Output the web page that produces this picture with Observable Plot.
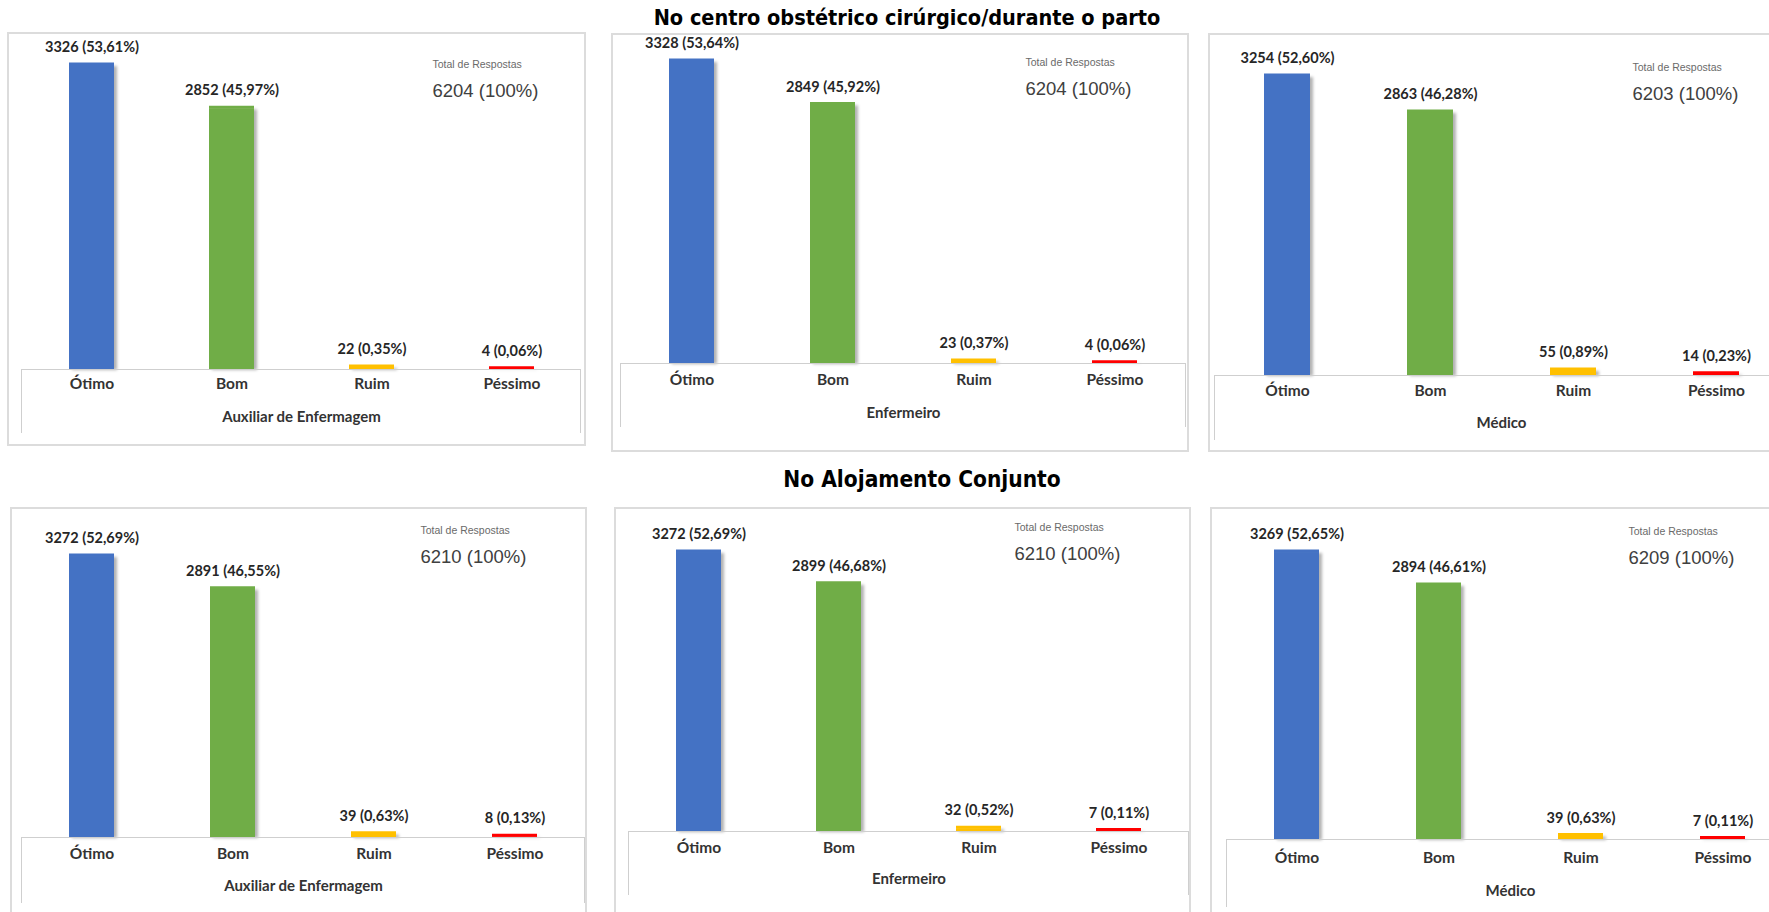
<!DOCTYPE html>
<html><head><meta charset="utf-8">
<script src="https://cdn.jsdelivr.net/npm/d3@7"></script>
<script src="https://cdn.jsdelivr.net/npm/@observablehq/plot@0.6"></script>
<style>
html,body{margin:0;padding:0;background:#fff;}
#page{position:relative;width:1769px;height:912px;overflow:hidden;background:#fff;}
.box{position:absolute;border:2px solid #dcdcdc;box-sizing:border-box;}
.inner{position:absolute;border:1px solid #cfcfcf;border-bottom:none;box-sizing:border-box;}
.title{position:absolute;font-family:"DejaVu Sans Condensed","Liberation Sans Narrow",sans-serif;font-stretch:condensed;font-weight:bold;color:#000;white-space:nowrap;transform:translate(-50%,-50%);}
</style></head><body><div id="page"></div>
<script>
// ---- data ----
const categories = ["Ótimo", "Bom", "Ruim", "Péssimo"];
const colors = ["#4472C4", "#70AD47", "#FFC000", "#FF0000"];
const sectionTitles = ["No centro obstétrico cirúrgico/durante o parto", "No Alojamento Conjunto"];
const professions = ["Auxiliar de Enfermagem", "Enfermeiro", "Médico"];
const totalLabel = "Total de Respostas";

const partoAuxiliarCounts = [3326, 2852, 22, 4];
const partoAuxiliarPct = ["53,61%", "45,97%", "0,35%", "0,06%"];
const partoEnfermeiroCounts = [3328, 2849, 23, 4];
const partoEnfermeiroPct = ["53,64%", "45,92%", "0,37%", "0,06%"];
const partoMedicoCounts = [3254, 2863, 55, 14];
const partoMedicoPct = ["52,60%", "46,28%", "0,89%", "0,23%"];

const alojAuxiliarCounts = [3272, 2891, 39, 8];
const alojAuxiliarPct = ["52,69%", "46,55%", "0,63%", "0,13%"];
const alojEnfermeiroCounts = [3272, 2899, 32, 7];
const alojEnfermeiroPct = ["52,69%", "46,68%", "0,52%", "0,11%"];
const alojMedicoCounts = [3269, 2894, 39, 7];
const alojMedicoPct = ["52,65%", "46,61%", "0,63%", "0,11%"];

const totals = [6204, 6204, 6203, 6210, 6210, 6209];

// ---- layout (page pixels) ----
const layouts = [
  {box:[7,32,586,446],     r0:21,   r1:581,  axisY:369, ymax:3687, inner:433, tx:432,  ty:60,  cat:19, sub:52},
  {box:[611,33,1189,452],  r0:620,  r1:1186, axisY:363, ymax:3636, inner:427, tx:1025, ty:58,  cat:21, sub:54},
  {box:[1208,33,1800,452], r0:1214, r1:1788, axisY:375, ymax:3722, inner:440, tx:1632, ty:63,  cat:20, sub:52},
  {box:[10,507,587,925],   r0:21,   r1:585,  axisY:837, ymax:3843, inner:903, tx:420,  ty:526, cat:21, sub:53},
  {box:[614,507,1191,925], r0:628,  r1:1189, axisY:831, ymax:3800, inner:895, tx:1014, ty:523, cat:21, sub:52},
  {box:[1210,507,1800,925],r0:1226, r1:1794, axisY:839, ymax:3782, inner:907, tx:1628, ty:527, cat:23, sub:56}
];

const panels = [
  [partoAuxiliarCounts, partoAuxiliarPct, professions[0]],
  [partoEnfermeiroCounts, partoEnfermeiroPct, professions[1]],
  [partoMedicoCounts, partoMedicoPct, professions[2]],
  [alojAuxiliarCounts, alojAuxiliarPct, professions[0]],
  [alojEnfermeiroCounts, alojEnfermeiroPct, professions[1]],
  [alojMedicoCounts, alojMedicoPct, professions[2]]
];

const page = document.getElementById("page");

function addTitle(text, cx, cy, size) {
  const d = document.createElement("div");
  d.className = "title"; d.textContent = text;
  d.style.left = cx + "px"; d.style.top = cy + "px"; d.style.fontSize = size + "px";
  page.appendChild(d);
}
addTitle(sectionTitles[0], 907, 17, 21.5);
addTitle(sectionTitles[1], 922, 479, 22.5);

panels.forEach(([counts, pcts, prof], i) => {
  const L = layouts[i];
  const data = categories.map((c, j) => ({cat: c, v: counts[j], label: `${counts[j]} (${pcts[j]})`}));
  const box = document.createElement("div");
  box.className = "box";
  box.style.left = L.box[0] + "px"; box.style.top = L.box[1] + "px";
  box.style.width = (L.box[2] - L.box[0]) + "px"; box.style.height = (L.box[3] - L.box[1]) + "px";
  page.appendChild(box);

  const W = L.box[2] - L.box[0], H = L.box[3] - L.box[1];
  const chart = Plot.plot({
    width: W, height: H,
    marginLeft: L.r0 - L.box[0], marginRight: L.box[2] - L.r1,
    marginTop: 0, marginBottom: L.box[3] - L.axisY,
    x: {domain: categories, paddingInner: 0.68, paddingOuter: 0.34, axis: null},
    y: {domain: [0, L.ymax], axis: null},
    color: {domain: categories, range: colors},
    style: {fontFamily: "Lato, sans-serif", overflow: "visible", background: "transparent"},
    marks: [
      Plot.barY(data, {x: "cat", y: "v", fill: "cat"}),
      Plot.tickY(data, {x: "cat", y: "v", stroke: "cat", strokeWidth: 3, dy: -1.5}),
      Plot.text(data, {x: "cat", y: "v", text: "label", dy: -18, fontSize: 14.5, fontWeight: "bold", fill: "#262626"}),
      Plot.text(data, {x: "cat", text: "cat", frameAnchor: "bottom", dy: L.cat, fontSize: 15.5, fontWeight: "bold", fill: "#333333"}),
      Plot.text([prof], {text: d => d, frameAnchor: "bottom", dy: L.sub, fontSize: 15, fontWeight: "bold", fill: "#333333"}),
      Plot.text([totalLabel], {text: d => d, frameAnchor: "top-left", dx: L.tx - L.r0, dy: L.ty - L.box[1], textAnchor: "start", fontSize: 10.5, fill: "#6a6a6a", fontFamily: "Liberation Sans"}),
      Plot.text([totals[i]], {text: d => `${d} (100%)`, frameAnchor: "top-left", dx: L.tx - L.r0, dy: L.ty - L.box[1] + 23, textAnchor: "start", fontSize: 18.5, fill: "#404040", fontFamily: "Liberation Sans"})
    ]
  });
  chart.style.position = "absolute";
  chart.style.left = L.box[0] + "px"; chart.style.top = L.box[1] + "px";
  chart.querySelectorAll('g[aria-label="bar"] rect').forEach(r => r.style.filter = "drop-shadow(3px 1px 1.5px rgba(0,0,0,0.3))");
  page.appendChild(chart);

  const inner = document.createElement("div");
  inner.className = "inner";
  inner.style.left = L.r0 + "px"; inner.style.top = L.axisY + "px";
  inner.style.width = (L.r1 - L.r0) + "px"; inner.style.height = (L.inner - L.axisY) + "px";
  page.appendChild(inner);
});
</script></body></html>
